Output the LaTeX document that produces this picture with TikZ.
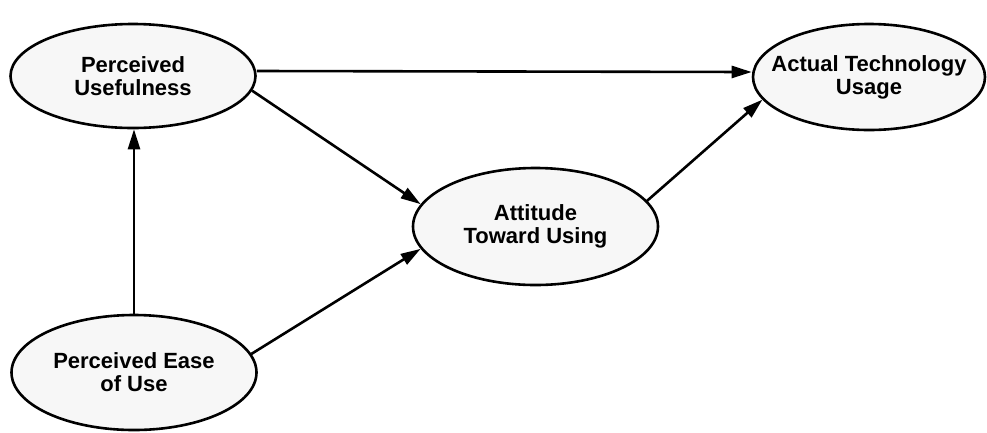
\documentclass[tikz,border=0pt]{standalone}
\usepackage{fontspec}
\setmainfont{Liberation Sans}
\usetikzlibrary{shapes.geometric,arrows.meta}
\begin{document}
\begin{tikzpicture}[x=1pt,y=-1pt,
  construct/.style={ellipse,draw=black,line width=2.6pt,fill=black!3,inner sep=0pt,
    align=center,font=\fontsize{22}{23}\selectfont\bfseries},
  link/.style={line width=2.6pt,-{Triangle[length=20pt,width=12pt]}}]
\useasboundingbox (0,0) rectangle (987,432);
\node[construct,minimum width=245pt,minimum height=104pt] (pu) at (133,76) {Perceived\\Usefulness};
\node[construct,inner xsep=-20pt,minimum width=232pt,minimum height=106pt] (atu) at (869,77) {Actual Technology\\Usage};
\node[construct,minimum width=245pt,minimum height=117pt] (att) at (535.5,226.5) {Attitude\\Toward Using};
\node[construct,minimum width=245pt,minimum height=115pt] (peou) at (134,372.5) {Perceived Ease\\of Use};
\draw[link] ([yshift=5pt]pu.east) -- ([yshift=5pt]atu.west);
\draw[link] (pu.-7.9) -- (att.169.5);
\draw[link] (peou.north) -- (peou.north |- pu.south);
\draw[link] (peou.9.5) -- (att.-169.5);
\draw[link] (att.13.6) -- (atu.-168.6);
\end{tikzpicture}
\end{document}
